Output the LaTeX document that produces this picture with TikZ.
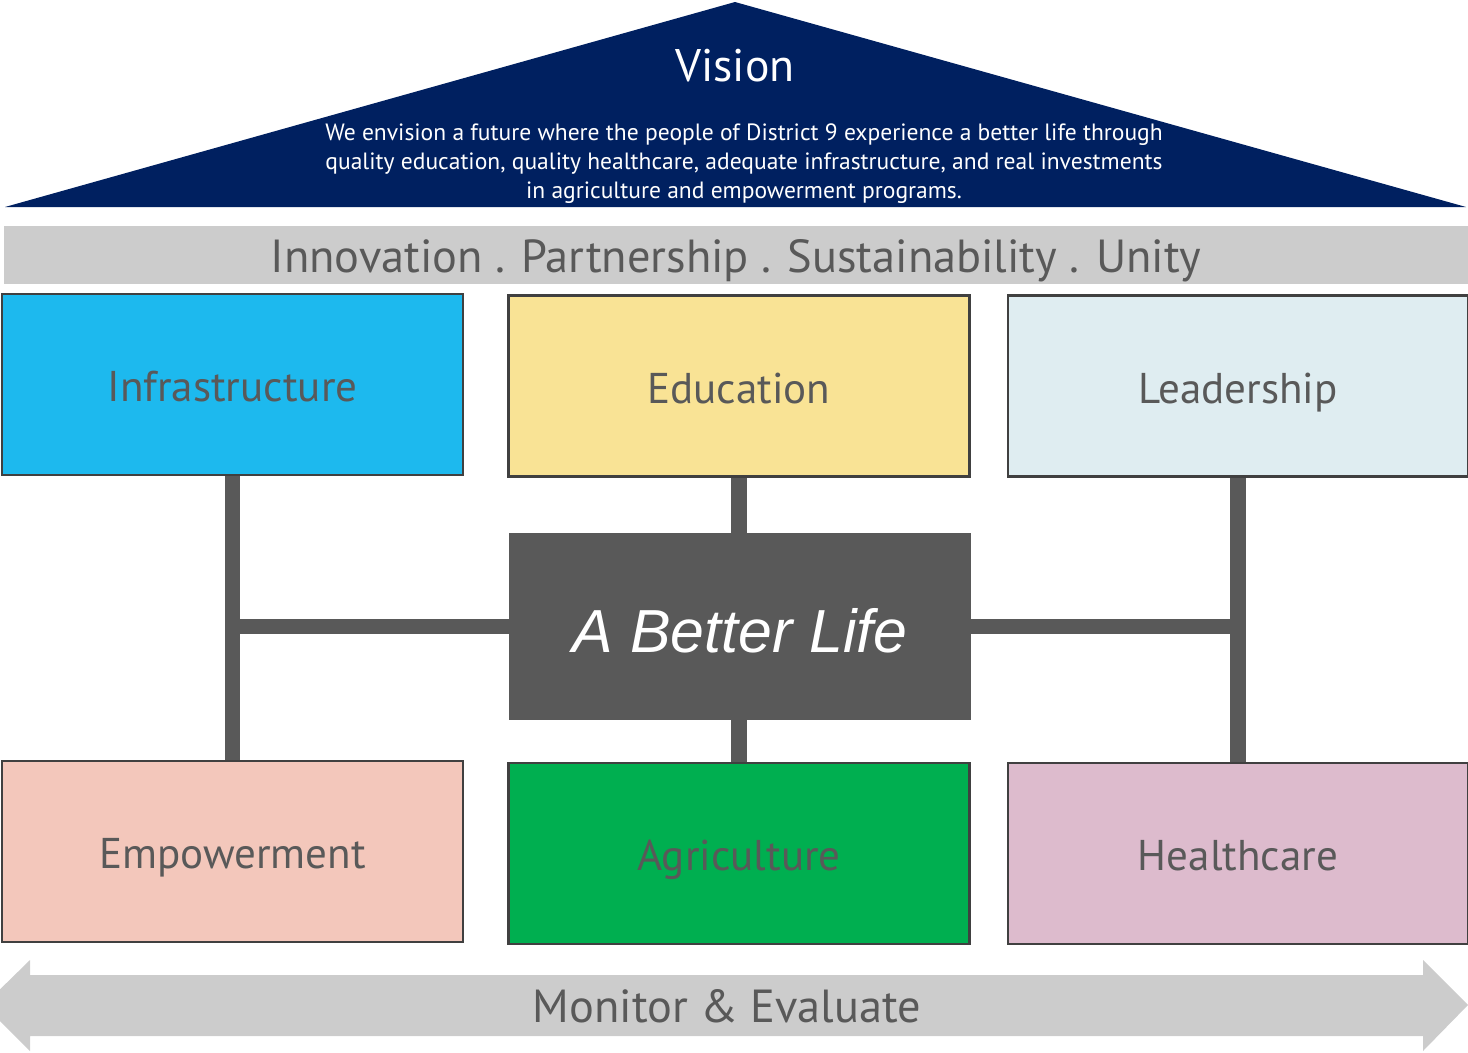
\documentclass[tikz,border=0pt]{standalone}
\usepackage{fontspec}
\setmainfont{PT Sans}
\newfontfamily\goalfont{Liberation Sans}
\usetikzlibrary{positioning}
\usetikzlibrary{backgrounds}
\definecolor{navy}{HTML}{002060}
\definecolor{bandgrey}{HTML}{CCCCCC}
\definecolor{textgrey}{HTML}{595959}
\definecolor{boxline}{HTML}{404040}
\definecolor{infrafill}{HTML}{1DB9EE}
\definecolor{edufill}{HTML}{F9E395}
\definecolor{leadfill}{HTML}{DFEDF1}
\definecolor{empowerfill}{HTML}{F3C7BB}
\definecolor{agrifill}{HTML}{00AF50}
\definecolor{healthfill}{HTML}{DDBBCD}
\tikzset{
	pillar/.style={draw=boxline, line width=1.2pt, rectangle, inner sep=0pt, minimum width=9.22cm, minimum height=3.62cm, text height=19.5pt, text depth=0pt, text=textgrey, font=\fontsize{24.5}{28}\selectfont},
	goal/.style={rectangle, inner sep=0pt, minimum width=9.24cm, minimum height=3.74cm, text height=30pt, text depth=0pt, fill=textgrey, text=white, font=\goalfont\fontsize{34.6}{40}\selectfont\itshape},
	band/.style={rectangle, inner sep=0pt, minimum width=29.28cm, minimum height=1.16cm, text height=20pt, text depth=0pt, fill=bandgrey, text=textgrey, font=\fontsize{26.4}{30}\selectfont},
	% link between the boxes
	link/.style={line width=9pt, draw=textgrey},
}

\begin{document}
\begin{tikzpicture}[x=0.02cm, y=-0.02cm]
			\useasboundingbox (0,0) rectangle (1468,1052);
			
			% roof
			\fill[navy] (5,207) -- (735,2) -- (1466,207) -- cycle;
			\node (vision) [anchor=base, text=white, font=\fontsize{26}{30}\selectfont] at (735,81.7) {Vision};
			\node (visiontext) [text=white, align=center, font=\fontsize{13.4}{16.4}\selectfont] at (744,163.5) {We envision a future where the people of District 9 experience a better life through\\ quality education, quality healthcare, adequate infrastructure, and real investments\\ in agriculture and empowerment programs.};
			
			\node (values) [band] at (736,255) {Innovation . Partnership . Sustainability . Unity};
			
			\node (infra) [pillar, fill=infrafill] at (232.5,384.5) {Infrastructure};
			\node (edu) [pillar, fill=edufill] at (739,386) {Education};
			\node (lead) [pillar, fill=leadfill] at (1238,386) {Leadership};
			
			\node (goal) [goal] at (740,626.5) {A Better Life};
			
			\node (empower) [pillar, fill=empowerfill] at (232.5,851.5) {Empowerment};
			\node (agri) [pillar, fill=agrifill] at (739,853.5) {Agriculture};
			\node (health) [pillar, fill=healthfill] at (1238,853.5) {Healthcare};
			
			% monitor arrow
			\fill[bandgrey] (-16,1005) -- (30,960) -- (30,975) -- (1423,975) -- (1423,960) -- (1468,1005) -- (1423,1051) -- (1423,1036) -- (30,1036) -- (30,1051) -- cycle;
			\node (monitor) [anchor=base, text=textgrey, font=\fontsize{26.4}{30}\selectfont] at (727,1022.7) {Monitor \& Evaluate};
			
			\begin{scope}[on background layer={link}]
				\draw (infra) -- (empower);
				\draw (lead) -- (health);
				\draw[line cap=rect] (infra.south |- goal.west) -- (goal.west);
				\draw[line cap=rect] (goal.east) -- (lead.south |- goal.east);
				\draw (edu.south) -- (edu.south |- goal.north);
				\draw (goal.south -| agri.north) -- (agri.north);
			\end{scope}
		\end{tikzpicture}
\end{document}
